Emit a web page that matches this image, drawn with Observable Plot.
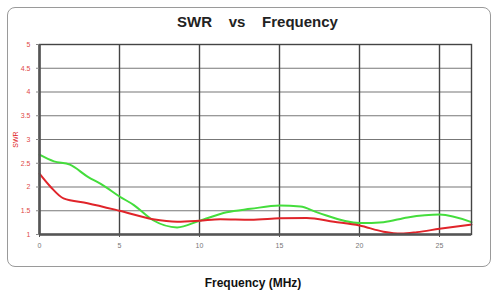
<!DOCTYPE html>
<html><head><meta charset="utf-8">
<script src="https://cdn.jsdelivr.net/npm/d3@7"></script>
<script src="https://cdn.jsdelivr.net/npm/@observablehq/plot@0.6"></script>
<style>
body{margin:0;background:#fff;width:494px;height:294px;position:relative;overflow:hidden;font-family:"Liberation Sans",Arial,sans-serif;}
#frame{position:absolute;left:7px;top:7px;width:484px;height:260px;border:1px solid #9a9a9a;border-radius:8px;box-sizing:border-box;}
#title{position:absolute;left:0;width:515px;top:13px;text-align:center;font-weight:bold;font-size:15px;color:#222;white-space:pre;}
#xlabel{position:absolute;left:0;width:506px;top:276px;text-align:center;font-weight:bold;font-size:12px;color:#111;}
#chart{position:absolute;left:0;top:0;}
</style></head><body>
<div id="frame"></div>
<div id="title">SWR    vs    Frequency</div>
<div id="chart"></div>
<div id="xlabel">Frequency (MHz)</div>
<script>
const redFreq = [0, 0.7, 1.5, 3, 5, 7.1, 8.6, 10, 11.3, 13.2, 15, 16.7, 18.4, 20, 21.5, 22.6, 23.6, 25, 27];
const redSWR  = [2.28, 2.0, 1.76, 1.66, 1.5, 1.32, 1.27, 1.29, 1.32, 1.31, 1.34, 1.35, 1.27, 1.19, 1.06, 1.02, 1.05, 1.12, 1.21];
const greenFreq = [0, 0.9, 1.9, 3, 4, 5, 5.9, 7.1, 8.6, 10, 11.7, 13.2, 15, 16.3, 17.4, 20, 21.5, 23, 25, 27];
const greenSWR  = [2.68, 2.54, 2.47, 2.22, 2.03, 1.8, 1.62, 1.3, 1.15, 1.29, 1.47, 1.54, 1.61, 1.59, 1.46, 1.24, 1.26, 1.36, 1.42, 1.26];
const xTicks = [0, 5, 10, 15, 20, 25];
const yTicks = [1, 1.5, 2, 2.5, 3, 3.5, 4, 4.5, 5];

const red = redFreq.map((f, i) => ({f, s: redSWR[i]}));
const green = greenFreq.map((f, i) => ({f, s: greenSWR[i]}));

const chart = Plot.plot({
  width: 494, height: 260,
  marginLeft: 39, marginRight: 23, marginTop: 44, marginBottom: 26,
  style: {background: "transparent", fontFamily: "Liberation Sans, Arial, sans-serif"},
  x: {domain: [0, 27]},
  y: {domain: [1, 5]},
  marks: [
    Plot.ruleY(yTicks, {stroke: "#777", strokeWidth: 1.2}),
    Plot.ruleX(xTicks, {stroke: "#444", strokeWidth: 1.4}),
    Plot.line(green, {x: "f", y: "s", stroke: "#44dd3c", strokeWidth: 2, curve: "monotone-x"}),
    Plot.line(red, {x: "f", y: "s", stroke: "#e0242a", strokeWidth: 2, curve: "monotone-x"}),
    Plot.frame({stroke: "#444", strokeWidth: 1.4}),
    Plot.ruleY([1], {stroke: "#555", strokeWidth: 2.5}),
    Plot.ruleX([0], {stroke: "#555", strokeWidth: 2.5}),
    Plot.axisY({ticks: yTicks, tickFormat: d => String(d), fill: "#e04848", stroke: "#888", fontSize: 7, tickSize: 3,
      label: "SWR", labelAnchor: "center", labelArrow: "none", labelOffset: 26}),
    Plot.axisX({ticks: xTicks, tickFormat: d => String(d), fill: "#777", stroke: "#555", fontSize: 7, tickSize: 3, label: null})
  ]
});
chart.querySelectorAll("[aria-label='y-axis label'] text").forEach(t => { t.setAttribute("fill", "#e02020"); t.style.fontSize = "7px"; });
document.getElementById("chart").appendChild(chart);
</script>
</body></html>
